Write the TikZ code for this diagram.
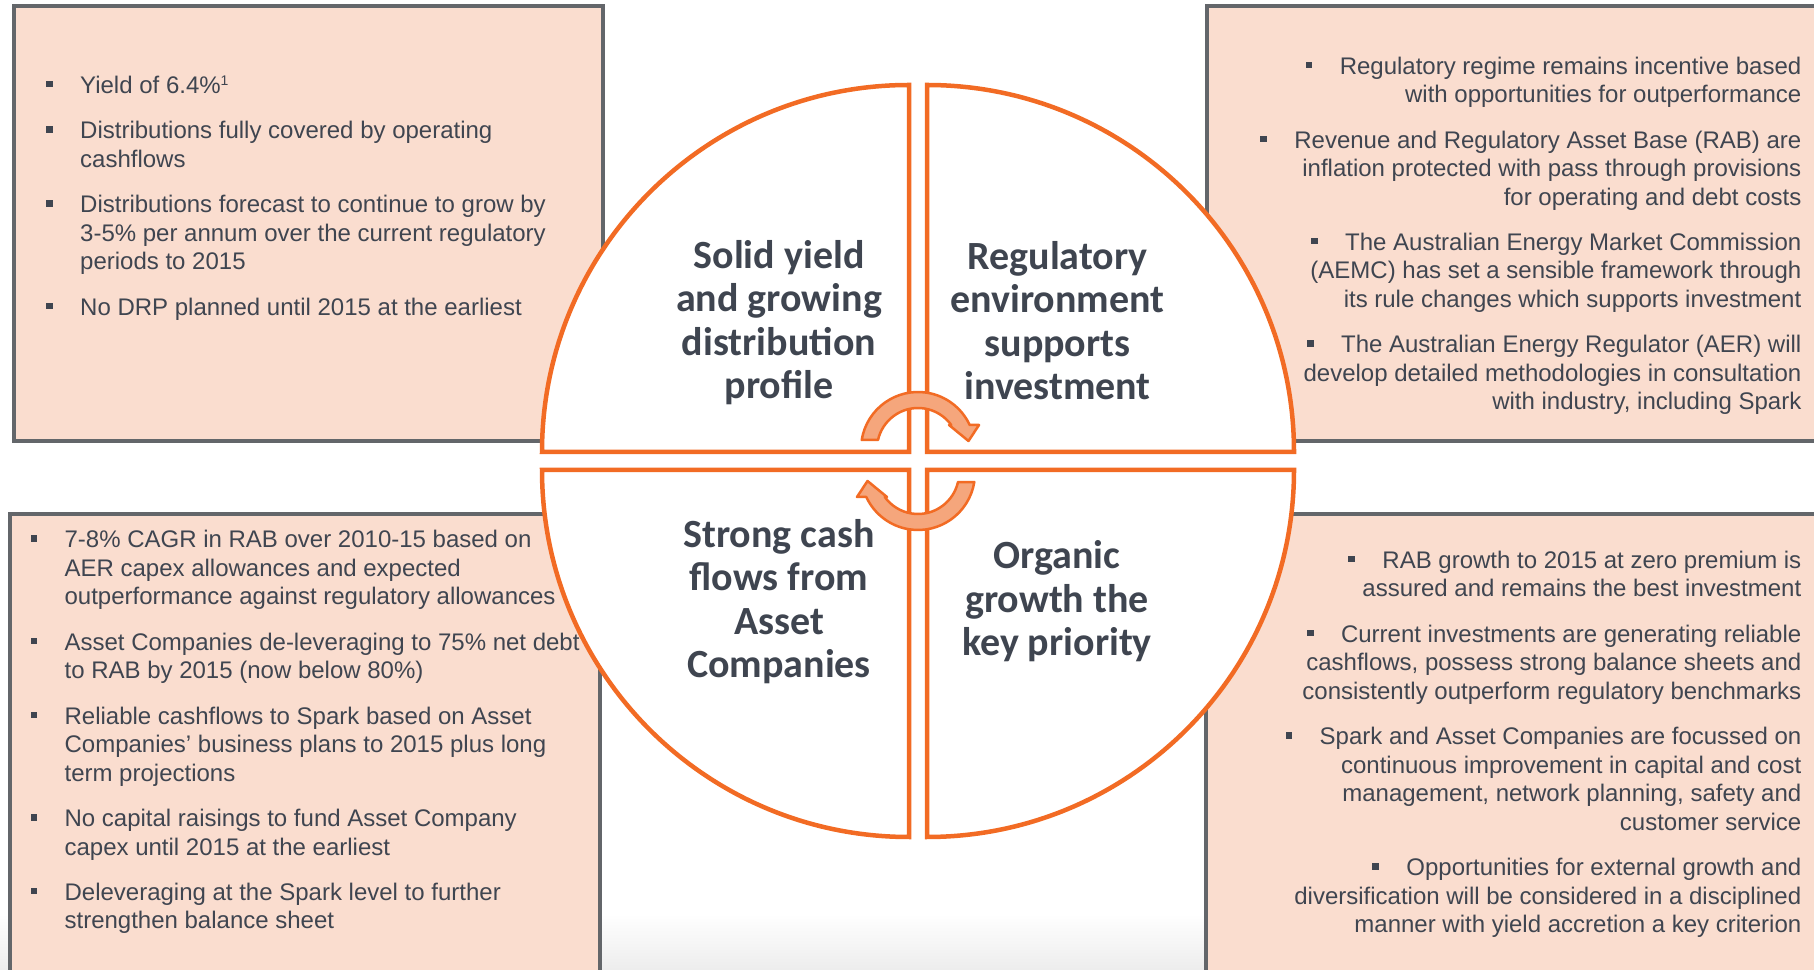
\documentclass[tikz,border=0pt]{standalone}
\usepackage{fontspec}
\setmainfont{Liberation Sans}
\newfontfamily\carlito{Carlito}
\usetikzlibrary{positioning}

\definecolor{sparkorange}{HTML}{F26B24}
\definecolor{sparklight}{HTML}{F5A67C}
\definecolor{peach}{HTML}{FADDCF}
\definecolor{boxgrey}{HTML}{63666A}
\definecolor{slate}{HTML}{3F4550}

\newcommand{\bul}{\rule[6pt]{6.5pt}{6.5pt}\hspace{27.5pt}}
\newcommand{\lbul}{\llap{\bul}}
\newcommand{\note}[1]{\raisebox{8pt}{\fontsize{14}{14}\selectfont #1}}
\newcommand{\turnarrow}{(170.9:57pt) arc[start angle=170.9, end angle=24.9, radius=57pt]
  -- (61,24) -- (50.5,8) -- (31,24) -- (35.9:41pt)
  arc[start angle=35.9, end angle=167.3, radius=41pt] -- cycle}

\tikzstyle{info box}=[
        draw = boxgrey,
        line width = 3.5pt,
        fill = peach
    ]
\tikzstyle{quarter}=[
        draw = sparkorange,
        line width = 4.5pt,
        fill = white
    ]
\tikzstyle{turn}=[
        draw = sparkorange,
        line width = 2.5pt,
        fill = sparklight,
        line join = round
    ]
\tikzstyle{left item}=[
        inner sep = 0pt,
        anchor = north west,
        align = left,
        text = slate,
        font = \fontsize{24}{28.5}\selectfont
    ]
\tikzstyle{right item}=[
        inner sep = 0pt,
        anchor = north east,
        align = right,
        text = slate,
        font = \fontsize{24}{28.5}\selectfont
    ]
\tikzstyle{heading}=[
        inner sep = 0pt,
        anchor = north,
        align = center,
        text = slate,
        font = \carlito\bfseries\fontsize{40}{43.5}\selectfont
    ]

\begin{document}
\begin{tikzpicture}[x=1pt, y=1pt]
        \useasboundingbox (0,0) rectangle (1814,969);
        \clip (0,0) rectangle (1814,969);
        \shade[top color=white, bottom color=black!7] (0,0) rectangle (1814,55);

        \draw[info box] (14,528) rectangle (603,963);
        \draw[info box] (1207,528) rectangle (1840,963);
        \draw[info box] (10,455) rectangle (600,-20);
        \draw[info box] (1206,455) rectangle (1840,-20);

        \coordinate (hub) at (918,508);
        \draw[quarter] (909,517) -- ++(-367,0) arc[start angle=180, end angle=90, radius=367pt] -- cycle;
        \draw[quarter] (927,517) -- ++(0,367) arc[start angle=90, end angle=0, radius=367pt] -- cycle;
        \draw[quarter] (927,499) -- ++(367,0) arc[start angle=0, end angle=-90, radius=367pt] -- cycle;
        \draw[quarter] (909,499) -- ++(0,-367) arc[start angle=270, end angle=180, radius=367pt] -- cycle;

        \draw[turn, shift={(918,520)}] \turnarrow;
        \draw[turn, shift={(918,496)}, rotate=180] \turnarrow;

        \node[heading] (yield) at (779,731.5) {\strut Solid yield\\ and growing\\ distribution\\ profile\strut};
        \node[heading] (regime) at (1057.5,730.5) {\strut Regulatory\\ environment\\ supports\\ investment\strut};
        \node[heading] (cash) at (779,452.5) {\strut Strong cash\\ flows from\\ Asset\\ Companies\strut};
        \node[heading] (growth) at (1057,431) {\strut Organic\\ growth the\\ key priority\strut};

        \node[left item] (tl1) at (80,895.7) {\strut\lbul Yield of 6.4\%\note{1}};
        \node[left item, below right = 16.5pt and 0pt of tl1.south west] (tl2) {\strut\lbul Distributions fully covered by operating\\ cashflows\strut};
        \node[left item, below right = 16.5pt and 0pt of tl2.south west] (tl3) {\strut\lbul Distributions forecast to continue to grow by\\ 3-5\% per annum over the current regulatory\\ periods to 2015\strut};
        \node[left item, below right = 16.5pt and 0pt of tl3.south west] (tl4) {\strut\lbul No DRP planned until 2015 at the earliest};

        \node[right item] (tr1) at (1801.5,915) {\strut\bul Regulatory regime remains incentive based\\ with opportunities for outperformance\strut};
        \node[right item, below left = 16.5pt and 0pt of tr1.south east] (tr2) {\strut\bul Revenue and Regulatory Asset Base (RAB) are\\ inflation protected with pass through provisions\\ for operating and debt costs\strut};
        \node[right item, below left = 16.5pt and 0pt of tr2.south east] (tr3) {\strut\bul The Australian Energy Market Commission\\ (AEMC) has set a sensible framework through\\ its rule changes which supports investment\strut};
        \node[right item, below left = 16.5pt and 0pt of tr3.south east] (tr4) {\strut\bul The Australian Energy Regulator (AER) will\\ develop detailed methodologies in consultation\\ with industry, including Spark\strut};

        \node[left item] (bl1) at (64.4,441.3) {\strut\lbul 7-8\% CAGR in RAB over 2010-15 based on\\ AER capex allowances and expected\\ outperformance against regulatory allowances\strut};
        \node[left item, below right = 16.5pt and 0pt of bl1.south west] (bl2) {\strut\lbul Asset Companies de-leveraging to 75\% net debt\\ to RAB by 2015 (now below 80\%)\strut};
        \node[left item, below right = 16.5pt and 0pt of bl2.south west] (bl3) {\strut\lbul Reliable cashflows to Spark based on Asset\\ Companies’ business plans to 2015 plus long\\ term projections\strut};
        \node[left item, below right = 16.5pt and 0pt of bl3.south west] (bl4) {\strut\lbul No capital raisings to fund Asset Company\\ capex until 2015 at the earliest\strut};
        \node[left item, below right = 16.5pt and 0pt of bl4.south west] (bl5) {\strut\lbul Deleveraging at the Spark level to further\\ strengthen balance sheet\strut};

        \node[right item] (br1) at (1801.5,420.7) {\strut\bul RAB growth to 2015 at zero premium is\\ assured and remains the best investment\strut};
        \node[right item, below left = 16.5pt and 0pt of br1.south east] (br2) {\strut\bul Current investments are generating reliable\\ cashflows, possess strong balance sheets and\\ consistently outperform regulatory benchmarks\strut};
        \node[right item, below left = 16.5pt and 0pt of br2.south east] (br3) {\strut\bul Spark and Asset Companies are focussed on\\ continuous improvement in capital and cost\\ management, network planning, safety and\\ customer service\strut};
        \node[right item, below left = 16.5pt and 0pt of br3.south east] (br4) {\strut\bul Opportunities for external growth and\\ diversification will be considered in a disciplined\\ manner with yield accretion a key criterion\strut};
    \end{tikzpicture}
\end{document}
